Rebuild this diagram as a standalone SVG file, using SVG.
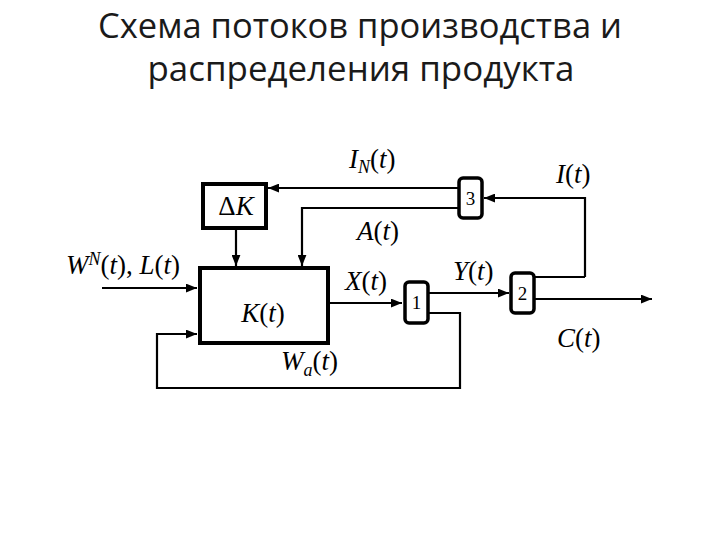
<svg xmlns="http://www.w3.org/2000/svg" width="720" height="540" viewBox="0 0 720 540">
<style>
.title{font-family:"Open Sans","Noto Sans",sans-serif;font-size:35px;fill:#1a1a1a;text-anchor:middle}
.lbl{font-family:'Liberation Serif','DejaVu Serif',serif;font-size:27px;font-style:italic;fill:#000}
.up{font-style:normal}
.sub{font-size:18px}
.num{font-family:'Liberation Serif','DejaVu Serif',serif;font-size:19px;fill:#000;text-anchor:middle}
.box{fill:#fff;stroke:#000;stroke-width:4}
.blk{fill:#fff;stroke:#000;stroke-width:3.5}
.wire{fill:none;stroke:#000;stroke-width:2.2}
</style>
<defs>
<marker id="arr" viewBox="0 0 10 8" refX="10" refY="4" markerWidth="11" markerHeight="9" markerUnits="userSpaceOnUse" orient="auto">
<path d="M0,0 L10,4 L0,8 Z" fill="#000"/>
</marker>
</defs>
<rect width="720" height="540" fill="#fff"/>
<text class="title" x="360" y="38" textLength="524" lengthAdjust="spacingAndGlyphs">Схема потоков производства и</text>
<text class="title" x="361" y="81" textLength="427" lengthAdjust="spacingAndGlyphs">распределения продукта</text>

<g id="connectors">
<path class="wire" d="M458,188 H268" marker-end="url(#arr)"/>
<path class="wire" d="M458,208 H302 V266" marker-end="url(#arr)"/>
<path class="wire" d="M236,229 V266" marker-end="url(#arr)"/>
<path class="wire" d="M585,277 V198 H484" marker-end="url(#arr)"/>
<path class="wire" d="M534,277 H585"/>
<path class="wire" d="M102,288 H197" marker-end="url(#arr)"/>
<path class="wire" d="M329,303 H402" marker-end="url(#arr)"/>
<path class="wire" d="M429,293 H509" marker-end="url(#arr)"/>
<path class="wire" d="M535,299 H652" marker-end="url(#arr)"/>
<path class="wire" d="M429,313 H460 V388 H157 V334 H197" marker-end="url(#arr)"/>
</g>

<g id="node-dK">
<rect class="box" x="203" y="184" width="63" height="44"/>
<text class="lbl" x="236" y="215" text-anchor="middle"><tspan class="up">Δ</tspan>K</text>
</g>
<g id="node-K">
<rect class="box" x="200" y="268" width="128" height="75"/>
<text class="lbl" x="263" y="322" text-anchor="middle">K<tspan class="up">(</tspan>t<tspan class="up">)</tspan></text>
</g>
<g id="node-3">
<rect class="blk" x="459" y="178" width="23" height="40" rx="4"/>
<text class="num" x="470.5" y="205">3</text>
</g>
<g id="node-1">
<rect class="blk" x="405" y="282" width="23" height="41" rx="4"/>
<text class="num" x="416.5" y="309">1</text>
</g>
<g id="node-2">
<rect class="blk" x="511" y="273" width="23" height="40" rx="4"/>
<text class="num" x="522.5" y="300">2</text>
</g>

<g id="labels">
<text class="lbl" x="349" y="168">I<tspan class="sub" dy="5">N</tspan><tspan class="up" dy="-5">(</tspan>t<tspan class="up">)</tspan></text>
<text class="lbl" x="556" y="183">I<tspan class="up">(</tspan>t<tspan class="up">)</tspan></text>
<text class="lbl" x="357" y="240">A<tspan class="up">(</tspan>t<tspan class="up">)</tspan></text>
<text class="lbl" x="345" y="290">X<tspan class="up">(</tspan>t<tspan class="up">)</tspan></text>
<text class="lbl" x="453" y="280">Y<tspan class="up">(</tspan>t<tspan class="up">)</tspan></text>
<text class="lbl" x="66" y="274">W<tspan class="sub" dy="-9">N</tspan><tspan class="up" dy="9">(</tspan>t<tspan class="up">), </tspan>L<tspan class="up">(</tspan>t<tspan class="up">)</tspan></text>
<text class="lbl" x="281" y="370">W<tspan class="sub" dy="6">a</tspan><tspan class="up" dy="-6">(</tspan>t<tspan class="up">)</tspan></text>
<text class="lbl" x="557" y="347">C<tspan class="up">(</tspan>t<tspan class="up">)</tspan></text>
</g>
</svg>
